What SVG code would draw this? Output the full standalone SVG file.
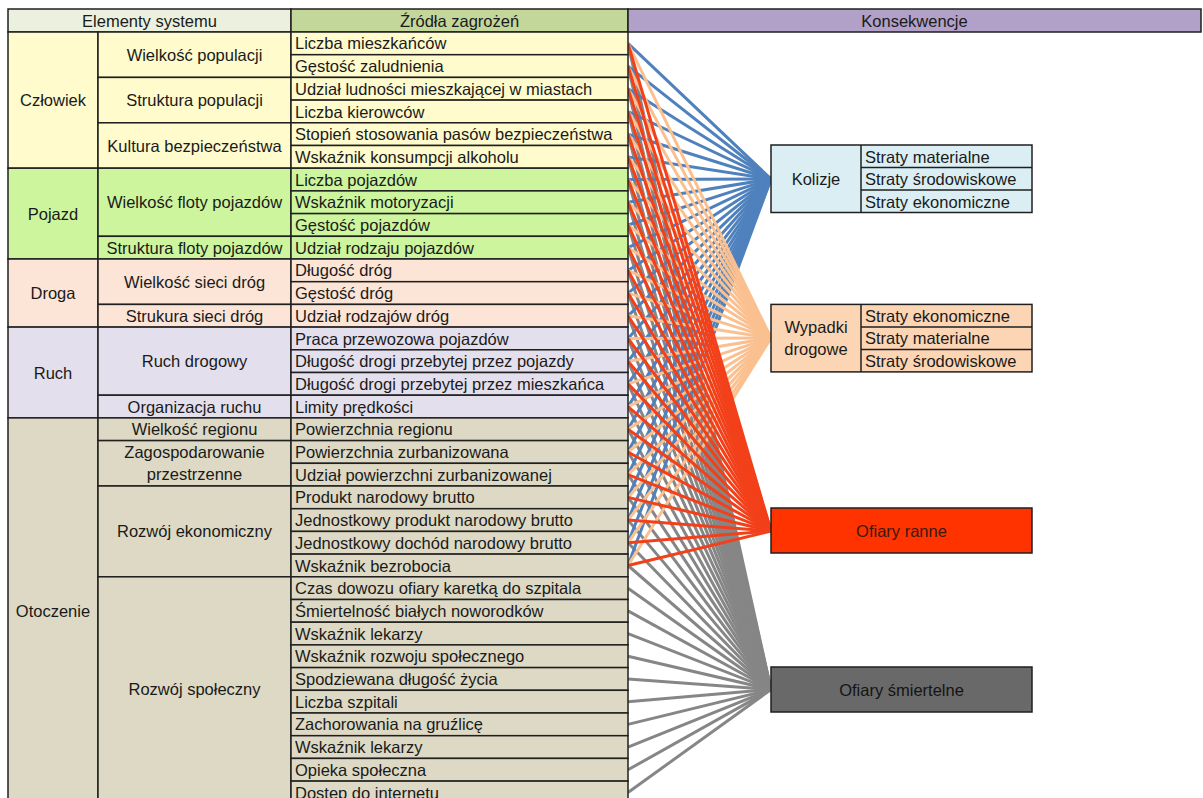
<svg xmlns="http://www.w3.org/2000/svg" width="1203" height="798" viewBox="0 0 1203 798">
<style>
text{font-family:"Liberation Sans",Arial,sans-serif;font-size:16.5px;fill:#1a1a1a}
.c{text-anchor:middle}
.b{stroke:#1f1f1f;stroke-width:1.5}
.g1{fill:#FFFBCC}.g2{fill:#CCF59E}.g3{fill:#FCE4D6}.g4{fill:#E4DFEC}.g5{fill:#DDD9C4}
.cn line{stroke-width:3;fill:none}
.lb{stroke:#4F81BD}.lo{stroke:#FAC090}.lr{stroke:#F2401A}.lg{stroke:#868686}
</style>
<rect width="1203" height="798" fill="#fff"/>

<g id="connectors" class="cn">
<g class="lg">
<line x1="628" y1="43.4" x2="771" y2="689.5"/><line x1="628" y1="66.1" x2="771" y2="689.5"/><line x1="628" y1="88.8" x2="771" y2="689.5"/><line x1="628" y1="111.5" x2="771" y2="689.5"/><line x1="628" y1="134.2" x2="771" y2="689.5"/><line x1="628" y1="156.9" x2="771" y2="689.5"/><line x1="628" y1="179.6" x2="771" y2="689.5"/><line x1="628" y1="202.3" x2="771" y2="689.5"/><line x1="628" y1="225" x2="771" y2="689.5"/><line x1="628" y1="247.7" x2="771" y2="689.5"/><line x1="628" y1="270.4" x2="771" y2="689.5"/><line x1="628" y1="293.1" x2="771" y2="689.5"/><line x1="628" y1="315.8" x2="771" y2="689.5"/><line x1="628" y1="338.5" x2="771" y2="689.5"/><line x1="628" y1="361.2" x2="771" y2="689.5"/><line x1="628" y1="383.9" x2="771" y2="689.5"/><line x1="628" y1="406.6" x2="771" y2="689.5"/><line x1="628" y1="429.3" x2="771" y2="689.5"/><line x1="628" y1="452" x2="771" y2="689.5"/><line x1="628" y1="474.7" x2="771" y2="689.5"/><line x1="628" y1="497.4" x2="771" y2="689.5"/><line x1="628" y1="520.1" x2="771" y2="689.5"/><line x1="628" y1="542.8" x2="771" y2="689.5"/><line x1="628" y1="565.5" x2="771" y2="689.5"/><line x1="628" y1="588.2" x2="771" y2="689.5"/><line x1="628" y1="610.9" x2="771" y2="689.5"/><line x1="628" y1="633.6" x2="771" y2="689.5"/><line x1="628" y1="656.3" x2="771" y2="689.5"/><line x1="628" y1="679" x2="771" y2="689.5"/><line x1="628" y1="701.7" x2="771" y2="689.5"/><line x1="628" y1="724.4" x2="771" y2="689.5"/><line x1="628" y1="747.1" x2="771" y2="689.5"/><line x1="628" y1="769.8" x2="771" y2="689.5"/><line x1="628" y1="792.5" x2="771" y2="689.5"/>
</g>
<g class="lb">
<line x1="628" y1="43.4" x2="771" y2="179"/><line x1="628" y1="66.1" x2="771" y2="179"/><line x1="628" y1="88.8" x2="771" y2="179"/><line x1="628" y1="111.5" x2="771" y2="179"/><line x1="628" y1="134.2" x2="771" y2="179"/><line x1="628" y1="156.9" x2="771" y2="179"/><line x1="628" y1="179.6" x2="771" y2="179"/><line x1="628" y1="202.3" x2="771" y2="179"/><line x1="628" y1="225" x2="771" y2="179"/><line x1="628" y1="247.7" x2="771" y2="179"/><line x1="628" y1="270.4" x2="771" y2="179"/><line x1="628" y1="293.1" x2="771" y2="179"/><line x1="628" y1="315.8" x2="771" y2="179"/><line x1="628" y1="338.5" x2="771" y2="179"/><line x1="628" y1="361.2" x2="771" y2="179"/><line x1="628" y1="383.9" x2="771" y2="179"/><line x1="628" y1="406.6" x2="771" y2="179"/><line x1="628" y1="429.3" x2="771" y2="179"/><line x1="628" y1="452" x2="771" y2="179"/><line x1="628" y1="474.7" x2="771" y2="179"/><line x1="628" y1="497.4" x2="771" y2="179"/><line x1="628" y1="520.1" x2="771" y2="179"/><line x1="628" y1="542.8" x2="771" y2="179"/><line x1="628" y1="565.5" x2="771" y2="179"/>
</g>
<g class="lo">
<line x1="628" y1="43.4" x2="771" y2="338"/><line x1="628" y1="66.1" x2="771" y2="338"/><line x1="628" y1="88.8" x2="771" y2="338"/><line x1="628" y1="111.5" x2="771" y2="338"/><line x1="628" y1="134.2" x2="771" y2="338"/><line x1="628" y1="156.9" x2="771" y2="338"/><line x1="628" y1="179.6" x2="771" y2="338"/><line x1="628" y1="202.3" x2="771" y2="338"/><line x1="628" y1="225" x2="771" y2="338"/><line x1="628" y1="247.7" x2="771" y2="338"/><line x1="628" y1="270.4" x2="771" y2="338"/><line x1="628" y1="293.1" x2="771" y2="338"/><line x1="628" y1="315.8" x2="771" y2="338"/><line x1="628" y1="338.5" x2="771" y2="338"/><line x1="628" y1="361.2" x2="771" y2="338"/><line x1="628" y1="383.9" x2="771" y2="338"/><line x1="628" y1="406.6" x2="771" y2="338"/><line x1="628" y1="429.3" x2="771" y2="338"/><line x1="628" y1="452" x2="771" y2="338"/><line x1="628" y1="474.7" x2="771" y2="338"/><line x1="628" y1="497.4" x2="771" y2="338"/><line x1="628" y1="520.1" x2="771" y2="338"/><line x1="628" y1="542.8" x2="771" y2="338"/><line x1="628" y1="565.5" x2="771" y2="338"/>
</g>
<g class="lr">
<line x1="628" y1="43.4" x2="771" y2="531"/><line x1="628" y1="66.1" x2="771" y2="531"/><line x1="628" y1="88.8" x2="771" y2="531"/><line x1="628" y1="111.5" x2="771" y2="531"/><line x1="628" y1="134.2" x2="771" y2="531"/><line x1="628" y1="156.9" x2="771" y2="531"/><line x1="628" y1="179.6" x2="771" y2="531"/><line x1="628" y1="202.3" x2="771" y2="531"/><line x1="628" y1="225" x2="771" y2="531"/><line x1="628" y1="247.7" x2="771" y2="531"/><line x1="628" y1="270.4" x2="771" y2="531"/><line x1="628" y1="293.1" x2="771" y2="531"/><line x1="628" y1="315.8" x2="771" y2="531"/><line x1="628" y1="338.5" x2="771" y2="531"/><line x1="628" y1="361.2" x2="771" y2="531"/><line x1="628" y1="383.9" x2="771" y2="531"/><line x1="628" y1="406.6" x2="771" y2="531"/><line x1="628" y1="429.3" x2="771" y2="531"/><line x1="628" y1="452" x2="771" y2="531"/><line x1="628" y1="474.7" x2="771" y2="531"/><line x1="628" y1="497.4" x2="771" y2="531"/><line x1="628" y1="520.1" x2="771" y2="531"/><line x1="628" y1="542.8" x2="771" y2="531"/><line x1="628" y1="565.5" x2="771" y2="531"/>
</g>
</g>

<g id="header">
<rect x="8" y="9" width="283" height="23" fill="#EBF1DE" class="b"/>
<text x="149.5" y="27" class="c">Elementy systemu</text>
<rect x="291" y="9" width="337" height="23" fill="#C4D79B" class="b"/>
<text x="459.5" y="27" class="c">Źródła zagrożeń</text>
<rect x="628" y="9" width="573" height="23" fill="#B1A0C7" class="b"/>
<text x="914.5" y="27" class="c">Konsekwencje</text>
</g>

<g id="czlowiek">
<rect x="8" y="32" width="90" height="136.2" class="g1 b"/>
<text x="53" y="106" class="c">Człowiek</text>
<rect x="98" y="32" width="193" height="45.4" class="g1 b"/>
<text x="194.5" y="60.7" class="c">Wielkość populacji</text>
<rect x="98" y="77.4" width="193" height="45.4" class="g1 b"/>
<text x="194.5" y="106.1" class="c">Struktura populacji</text>
<rect x="98" y="122.8" width="193" height="45.4" class="g1 b"/>
<text x="194.5" y="151.5" class="c">Kultura bezpieczeństwa</text>
<rect x="291" y="32" width="337" height="22.7" class="g1 b"/><text x="295" y="49.4">Liczba mieszkańców</text>
<rect x="291" y="54.7" width="337" height="22.7" class="g1 b"/><text x="295" y="72.1">Gęstość zaludnienia</text>
<rect x="291" y="77.4" width="337" height="22.7" class="g1 b"/><text x="295" y="94.8">Udział ludności mieszkającej w miastach</text>
<rect x="291" y="100.1" width="337" height="22.7" class="g1 b"/><text x="295" y="117.5">Liczba kierowców</text>
<rect x="291" y="122.8" width="337" height="22.7" class="g1 b"/><text x="295" y="140.2">Stopień stosowania pasów bezpieczeństwa</text>
<rect x="291" y="145.5" width="337" height="22.7" class="g1 b"/><text x="295" y="162.9">Wskaźnik konsumpcji alkoholu</text>
</g>

<g id="pojazd">
<rect x="8" y="168.2" width="90" height="90.8" class="g2 b"/>
<text x="53" y="219.6" class="c">Pojazd</text>
<rect x="98" y="168.2" width="193" height="68.1" class="g2 b"/>
<text x="194.5" y="208.2" class="c">Wielkość floty pojazdów</text>
<rect x="98" y="236.3" width="193" height="22.7" class="g2 b"/>
<text x="194.5" y="253.7" class="c">Struktura floty pojazdów</text>
<rect x="291" y="168.2" width="337" height="22.7" class="g2 b"/><text x="295" y="185.6">Liczba pojazdów</text>
<rect x="291" y="190.9" width="337" height="22.7" class="g2 b"/><text x="295" y="208.3">Wskaźnik motoryzacji</text>
<rect x="291" y="213.6" width="337" height="22.7" class="g2 b"/><text x="295" y="231">Gęstość pojazdów</text>
<rect x="291" y="236.3" width="337" height="22.7" class="g2 b"/><text x="295" y="253.7">Udział rodzaju pojazdów</text>
</g>

<g id="droga">
<rect x="8" y="259" width="90" height="68.1" class="g3 b"/>
<text x="53" y="299" class="c">Droga</text>
<rect x="98" y="259" width="193" height="45.4" class="g3 b"/>
<text x="194.5" y="287.7" class="c">Wielkość sieci dróg</text>
<rect x="98" y="304.4" width="193" height="22.7" class="g3 b"/>
<text x="194.5" y="321.8" class="c">Strukura sieci dróg</text>
<rect x="291" y="259" width="337" height="22.7" class="g3 b"/><text x="295" y="276.4">Długość dróg</text>
<rect x="291" y="281.7" width="337" height="22.7" class="g3 b"/><text x="295" y="299.1">Gęstość dróg</text>
<rect x="291" y="304.4" width="337" height="22.7" class="g3 b"/><text x="295" y="321.8">Udział rodzajów dróg</text>
</g>

<g id="ruch">
<rect x="8" y="327.1" width="90" height="90.8" class="g4 b"/>
<text x="53" y="378.5" class="c">Ruch</text>
<rect x="98" y="327.1" width="193" height="68.1" class="g4 b"/>
<text x="194.5" y="367.1" class="c">Ruch drogowy</text>
<rect x="98" y="395.2" width="193" height="22.7" class="g4 b"/>
<text x="194.5" y="412.6" class="c">Organizacja ruchu</text>
<rect x="291" y="327.1" width="337" height="22.7" class="g4 b"/><text x="295" y="344.5">Praca przewozowa pojazdów</text>
<rect x="291" y="349.8" width="337" height="22.7" class="g4 b"/><text x="295" y="367.2">Długość drogi przebytej przez pojazdy</text>
<rect x="291" y="372.5" width="337" height="22.7" class="g4 b"/><text x="295" y="389.9">Długość drogi przebytej przez mieszkańca</text>
<rect x="291" y="395.2" width="337" height="22.7" class="g4 b"/><text x="295" y="412.6">Limity prędkości</text>
</g>

<g id="otoczenie">
<rect x="8" y="417.9" width="90" height="385.9" class="g5 b"/>
<text x="53" y="616.6" class="c">Otoczenie</text>
<rect x="98" y="417.9" width="193" height="22.7" class="g5 b"/>
<text x="194.5" y="435.3" class="c">Wielkość regionu</text>
<rect x="98" y="440.6" width="193" height="45.4" class="g5 b"/>
<text x="194.5" y="458" class="c">Zagospodarowanie</text>
<text x="194.5" y="480" class="c">przestrzenne</text>
<rect x="98" y="486" width="193" height="90.8" class="g5 b"/>
<text x="194.5" y="537.4" class="c">Rozwój ekonomiczny</text>
<rect x="98" y="576.8" width="193" height="227" class="g5 b"/>
<text x="194.5" y="695.3" class="c">Rozwój społeczny</text>
<rect x="291" y="417.9" width="337" height="22.7" class="g5 b"/><text x="295" y="435.3">Powierzchnia regionu</text>
<rect x="291" y="440.6" width="337" height="22.7" class="g5 b"/><text x="295" y="458">Powierzchnia zurbanizowana</text>
<rect x="291" y="463.3" width="337" height="22.7" class="g5 b"/><text x="295" y="480.7">Udział powierzchni zurbanizowanej</text>
<rect x="291" y="486" width="337" height="22.7" class="g5 b"/><text x="295" y="503.4">Produkt narodowy brutto</text>
<rect x="291" y="508.7" width="337" height="22.7" class="g5 b"/><text x="295" y="526.1">Jednostkowy produkt narodowy brutto</text>
<rect x="291" y="531.4" width="337" height="22.7" class="g5 b"/><text x="295" y="548.8">Jednostkowy dochód narodowy brutto</text>
<rect x="291" y="554.1" width="337" height="22.7" class="g5 b"/><text x="295" y="571.5">Wskaźnik bezrobocia</text>
<rect x="291" y="576.8" width="337" height="22.7" class="g5 b"/><text x="295" y="594.2">Czas dowozu ofiary karetką do szpitala</text>
<rect x="291" y="599.5" width="337" height="22.7" class="g5 b"/><text x="295" y="616.9">Śmiertelność białych noworodków</text>
<rect x="291" y="622.2" width="337" height="22.7" class="g5 b"/><text x="295" y="639.6">Wskaźnik lekarzy</text>
<rect x="291" y="644.9" width="337" height="22.7" class="g5 b"/><text x="295" y="662.3">Wskaźnik rozwoju społecznego</text>
<rect x="291" y="667.6" width="337" height="22.7" class="g5 b"/><text x="295" y="685">Spodziewana długość życia</text>
<rect x="291" y="690.3" width="337" height="22.7" class="g5 b"/><text x="295" y="707.7">Liczba szpitali</text>
<rect x="291" y="713" width="337" height="22.7" class="g5 b"/><text x="295" y="730.4">Zachorowania na gruźlicę</text>
<rect x="291" y="735.7" width="337" height="22.7" class="g5 b"/><text x="295" y="753.1">Wskaźnik lekarzy</text>
<rect x="291" y="758.4" width="337" height="22.7" class="g5 b"/><text x="295" y="775.8">Opieka społeczna</text>
<rect x="291" y="781.1" width="337" height="22.7" class="g5 b"/><text x="295" y="798.5">Dostep do internetu</text>
</g>

<g id="kolizje">
<rect x="771" y="145" width="261" height="67.5" fill="#DAEEF3" class="b"/>
<line x1="861" y1="145" x2="861" y2="212.5" class="b"/>
<line x1="861" y1="167.5" x2="1032" y2="167.5" class="b"/>
<line x1="861" y1="190" x2="1032" y2="190" class="b"/>
<text x="816" y="185" class="c">Kolizje</text>
<text x="865" y="162.5">Straty materialne</text>
<text x="865" y="185">Straty środowiskowe</text>
<text x="865" y="207.5">Straty ekonomiczne</text>
</g>

<g id="wypadki">
<rect x="771" y="304.4" width="261" height="67.5" fill="#FCD5B4" class="b"/>
<line x1="861" y1="304.4" x2="861" y2="371.9" class="b"/>
<line x1="861" y1="326.9" x2="1032" y2="326.9" class="b"/>
<line x1="861" y1="349.4" x2="1032" y2="349.4" class="b"/>
<text x="816" y="333" class="c">Wypadki</text>
<text x="816" y="355" class="c">drogowe</text>
<text x="865" y="321.9">Straty ekonomiczne</text>
<text x="865" y="344.4">Straty materialne</text>
<text x="865" y="366.9">Straty środowiskowe</text>
</g>

<g id="ofiary-ranne">
<rect x="771" y="508" width="261" height="45" fill="#FF3300" class="b"/>
<text x="901.5" y="536.5" class="c" style="fill:#3a1a10">Ofiary ranne</text>
</g>

<g id="ofiary-smiertelne">
<rect x="771" y="667" width="261" height="45" fill="#696969" class="b"/>
<text x="901.5" y="695.5" class="c" style="fill:#141414">Ofiary śmiertelne</text>
</g>
</svg>
